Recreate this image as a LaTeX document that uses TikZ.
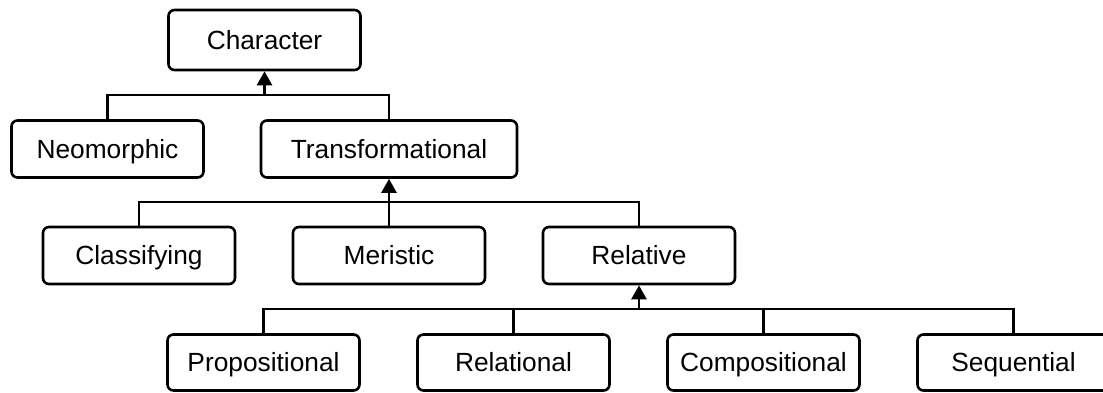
\documentclass[tikz,border=0pt]{standalone}
\usepackage{fontspec}
\setmainfont{Liberation Sans}
\usetikzlibrary{arrows.meta}
\begin{document}
\begin{tikzpicture}[x=1pt,y=-1pt,
  box/.style={draw=black,line width=2.6pt,rounded corners=6pt,fill=white,
    minimum width=192pt,minimum height=57pt,inner sep=0pt,
    text height=18.8pt,text depth=0pt,
    font=\fontsize{26.3}{30}\selectfont},
  link/.style={line width=2.6pt},
  uparrow/.style={link,-{Triangle[width=15pt,length=14pt]}}]
\useasboundingbox (0,0) rectangle (1103,392);
% level 0
\node[box,minimum height=60pt] (char) at (264.5,40) {Character};
% level 1
\node[box] (neo) at (107.5,149) {Neomorphic};
\node[box,minimum width=256pt] (trans) at (389,149) {Transformational};
% level 2
\node[box] (cls) at (139,255.5) {Classifying};
\node[box] (mer) at (389,255.5) {Meristic};
\node[box] (rel) at (639,255.5) {Relative};
% level 3
\node[box,minimum height=56pt] (prop) at (263.5,362.5) {Propositional};
\node[box,minimum height=56pt] (rela) at (513.5,362.5) {Relational};
\node[box,minimum height=56pt] (comp) at (763.5,362.5) {Compositional};
\node[box,minimum height=56pt] (seq) at (1013.5,362.5) {Sequential};
% bus junctions
\coordinate (busA) at (char.south |- 0,95);
\coordinate (busB) at (trans.south |- 0,202);
\coordinate (busC) at (rel.south |- 0,309);
% level 1 -> 0
\draw[link] (neo.north) |- (busA) -| (trans.north);
\draw[uparrow] (busA) -- (char.south);
% level 2 -> 1
\draw[link] (cls.north) |- (busB) -| (rel.north);
\draw[uparrow] (mer.north) -- (trans.south);
% level 3 -> 2
\draw[link] (prop.north) |- (busC) -| (seq.north);
\draw[link] (rela.north) -- (rela.north |- busC);
\draw[link] (comp.north) -- (comp.north |- busC);
\draw[uparrow] (busC) -- (rel.south);
\end{tikzpicture}
\end{document}
